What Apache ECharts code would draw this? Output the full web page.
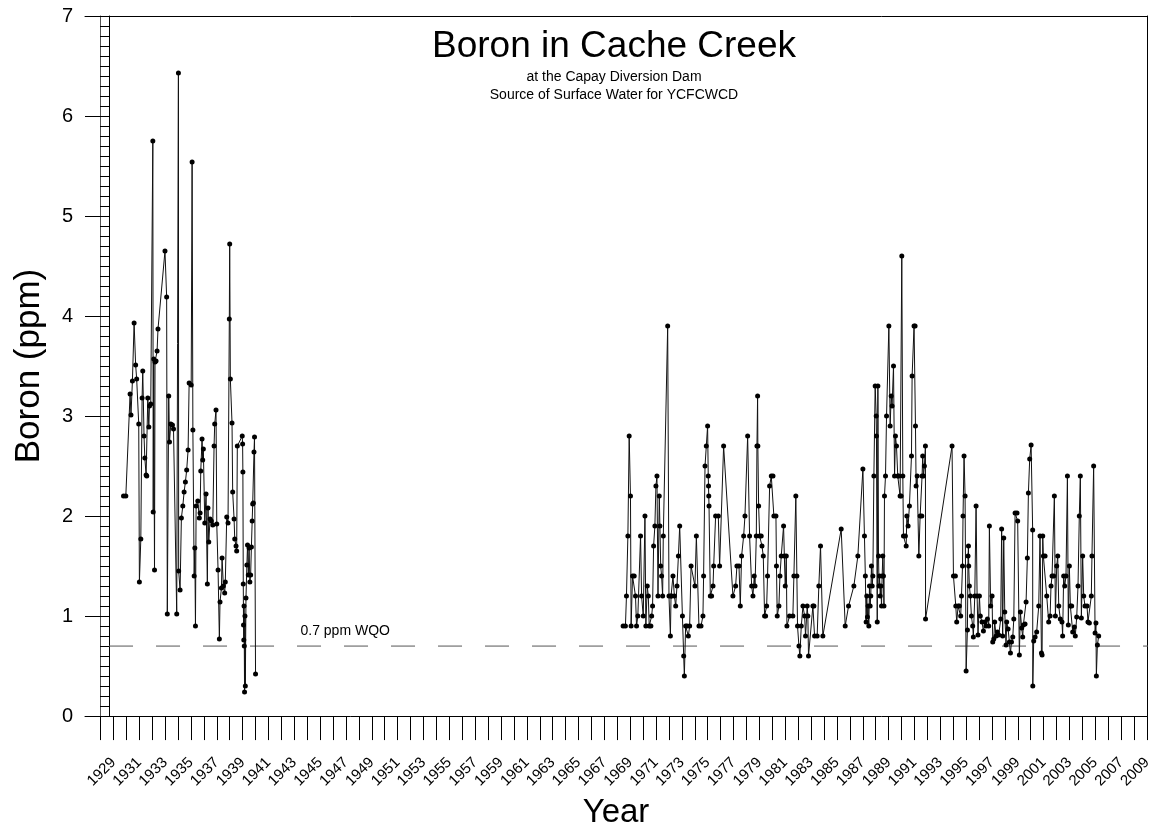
<!DOCTYPE html>
<html>
<head>
<meta charset="utf-8">
<title>Boron in Cache Creek</title>
<script src="https://cdn.jsdelivr.net/npm/echarts@6/dist/echarts.min.js"></script>
<style>
  html, body { margin: 0; padding: 0; background: #fff; }
  #chart { width: 1156px; height: 834px; }
</style>
</head>
<body>
<div id="chart"></div>
<script>
// samples as [decimal year, boron ppm]
const record1929to1940 = [
  [1929.78, 2.2], [1929.96, 2.2], [1930.29, 3.22], [1930.36, 3.01], [1930.47, 3.35],
  [1930.60, 3.93], [1930.72, 3.51], [1930.80, 3.37], [1930.96, 2.92], [1931.01, 1.34],
  [1931.12, 1.77], [1931.22, 3.18], [1931.27, 3.45], [1931.37, 2.80], [1931.43, 2.58],
  [1931.53, 2.41], [1931.58, 2.40], [1931.66, 3.18], [1931.74, 2.89], [1931.79, 3.10],
  [1931.89, 3.12], [1932.05, 5.75], [1932.08, 2.04], [1932.12, 3.57], [1932.18, 1.46],
  [1932.22, 3.54], [1932.30, 3.55], [1932.38, 3.65], [1932.45, 3.87], [1932.99, 4.65],
  [1933.12, 4.19], [1933.17, 1.02], [1933.28, 3.20], [1933.34, 2.74], [1933.44, 2.92],
  [1933.57, 2.91], [1933.65, 2.87], [1933.90, 1.02], [1934.03, 6.43], [1934.05, 1.45],
  [1934.16, 1.26], [1934.26, 1.98], [1934.37, 2.10], [1934.47, 2.24], [1934.57, 2.34],
  [1934.67, 2.46], [1934.78, 2.66], [1934.86, 3.33], [1935.02, 3.31], [1935.09, 5.54],
  [1935.15, 2.86], [1935.25, 1.40], [1935.30, 1.68], [1935.35, 0.90], [1935.40, 2.10],
  [1935.53, 2.15], [1935.65, 1.98], [1935.71, 2.03], [1935.76, 2.45], [1935.86, 2.77],
  [1935.91, 2.56], [1935.96, 2.67], [1936.07, 1.93], [1936.17, 2.22], [1936.27, 1.32],
  [1936.32, 2.08], [1936.38, 1.74], [1936.48, 1.97], [1936.58, 1.95], [1936.69, 1.91],
  [1936.79, 2.70], [1936.84, 2.92], [1936.94, 3.06], [1937.00, 1.92], [1937.10, 1.46],
  [1937.20, 0.77], [1937.25, 1.14], [1937.36, 1.28], [1937.41, 1.58], [1937.51, 1.30],
  [1937.61, 1.23], [1937.66, 1.34], [1937.77, 1.99], [1937.87, 1.93], [1937.97, 3.97],
  [1938.00, 4.72], [1938.05, 3.37], [1938.18, 2.93], [1938.23, 2.24], [1938.34, 1.97],
  [1938.39, 1.77], [1938.49, 1.70], [1938.54, 1.65], [1938.59, 2.70], [1938.97, 2.80],
  [1939.00, 2.72], [1939.02, 2.44], [1939.05, 1.32], [1939.07, 0.91], [1939.09, 0.76],
  [1939.11, 1.10], [1939.13, 0.70], [1939.15, 0.24], [1939.18, 1.00], [1939.21, 0.30],
  [1939.26, 1.18], [1939.33, 1.51], [1939.38, 1.71], [1939.44, 1.41], [1939.50, 1.68],
  [1939.56, 1.34], [1939.62, 1.41], [1939.68, 1.69], [1939.74, 1.95], [1939.78, 2.12],
  [1939.83, 2.13], [1939.88, 2.64], [1939.92, 2.79], [1940.00, 0.42]
];

const record1968to2005 = [
  [1968.45, 0.9], [1968.63, 0.9], [1968.71, 1.2], [1968.82, 1.8], [1968.92, 2.8],
  [1969.02, 2.2], [1969.07, 0.9], [1969.18, 1.4], [1969.31, 1.4], [1969.41, 1.2],
  [1969.49, 0.9], [1969.59, 1.0], [1969.80, 1.8], [1969.88, 1.2], [1970.01, 1.0],
  [1970.14, 2.0], [1970.21, 0.9], [1970.32, 1.3], [1970.40, 1.2], [1970.47, 0.9],
  [1970.60, 0.9], [1970.66, 1.0], [1970.73, 1.1], [1970.81, 1.7], [1970.91, 1.9],
  [1970.99, 2.3], [1971.07, 2.4], [1971.15, 1.2], [1971.25, 2.2], [1971.30, 1.9],
  [1971.36, 1.5], [1971.43, 1.4], [1971.51, 1.2], [1971.56, 1.8], [1971.90, 3.9],
  [1972.00, 1.2], [1972.11, 0.8], [1972.16, 1.2], [1972.20, 1.2], [1972.31, 1.4],
  [1972.42, 1.2], [1972.52, 1.1], [1972.62, 1.3], [1972.73, 1.6], [1972.83, 1.9],
  [1973.04, 1.0], [1973.14, 0.6], [1973.19, 0.4], [1973.29, 0.9], [1973.40, 0.9],
  [1973.50, 0.8], [1973.60, 0.9], [1973.71, 1.5], [1974.01, 1.3], [1974.12, 1.8],
  [1974.32, 0.9], [1974.48, 0.9], [1974.63, 1.0], [1974.68, 1.4], [1974.79, 2.5],
  [1974.89, 2.7], [1974.99, 2.9], [1975.04, 2.4], [1975.06, 2.3], [1975.08, 2.2],
  [1975.10, 2.1], [1975.20, 1.2], [1975.30, 1.2], [1975.41, 1.3], [1975.46, 1.5],
  [1975.61, 2.0], [1975.82, 2.0], [1975.92, 1.5], [1976.23, 2.7], [1976.95, 1.2],
  [1977.16, 1.3], [1977.26, 1.5], [1977.42, 1.5], [1977.52, 1.1], [1977.62, 1.6],
  [1977.78, 1.8], [1977.88, 2.0], [1978.09, 2.8], [1978.24, 1.8], [1978.40, 1.3],
  [1978.50, 1.2], [1978.60, 1.4], [1978.66, 1.3], [1978.76, 1.8], [1978.81, 2.7],
  [1978.86, 3.2], [1978.88, 2.7], [1978.94, 2.1], [1979.02, 1.8], [1979.14, 1.8],
  [1979.20, 1.7], [1979.30, 1.6], [1979.40, 1.0], [1979.48, 1.0], [1979.56, 1.1],
  [1979.63, 1.4], [1979.79, 2.3], [1979.92, 2.4], [1980.05, 2.4], [1980.12, 2.0],
  [1980.28, 2.0], [1980.32, 1.5], [1980.38, 1.0], [1980.51, 1.1], [1980.59, 1.4],
  [1980.69, 1.6], [1980.87, 1.9], [1980.93, 1.6], [1981.00, 1.3], [1981.08, 1.6],
  [1981.13, 0.9], [1981.33, 1.0], [1981.59, 1.0], [1981.67, 1.4], [1981.82, 2.2],
  [1981.90, 1.4], [1981.95, 0.9], [1982.06, 0.7], [1982.13, 0.6], [1982.24, 0.9],
  [1982.37, 1.1], [1982.50, 1.0], [1982.57, 0.8], [1982.70, 1.1], [1982.75, 1.0],
  [1982.80, 0.6], [1983.14, 1.1], [1983.22, 1.1], [1983.27, 0.8], [1983.47, 0.8],
  [1983.60, 1.3], [1983.73, 1.7], [1983.91, 0.8], [1985.33, 1.87], [1985.64, 0.9],
  [1985.90, 1.1], [1986.31, 1.3], [1986.62, 1.6], [1987.01, 2.47], [1987.13, 1.8],
  [1987.20, 1.4], [1987.26, 0.94], [1987.31, 1.2], [1987.36, 0.99], [1987.41, 1.1],
  [1987.47, 0.9], [1987.52, 1.3], [1987.57, 1.1], [1987.62, 1.2], [1987.67, 1.5],
  [1987.73, 1.3], [1987.78, 1.4], [1987.86, 2.4], [1987.96, 3.3], [1988.04, 3.0],
  [1988.06, 2.8], [1988.12, 0.94], [1988.17, 3.3], [1988.22, 1.6], [1988.26, 1.3],
  [1988.30, 1.4], [1988.35, 1.2], [1988.40, 1.3], [1988.45, 1.1], [1988.50, 1.4],
  [1988.55, 1.6], [1988.60, 1.4], [1988.64, 1.1], [1988.68, 2.2], [1988.76, 2.4],
  [1988.84, 3.0], [1989.02, 3.9], [1989.12, 2.9], [1989.20, 3.2], [1989.27, 3.1],
  [1989.38, 3.5], [1989.46, 2.4], [1989.53, 2.8], [1989.61, 2.7], [1989.71, 2.4],
  [1989.79, 2.4], [1989.89, 2.2], [1989.97, 2.2], [1990.02, 4.6], [1990.10, 2.4],
  [1990.15, 1.8], [1990.30, 1.8], [1990.36, 1.7], [1990.41, 2.0], [1990.51, 1.9],
  [1990.61, 2.1], [1990.77, 2.6], [1990.82, 3.4], [1990.97, 3.9], [1991.05, 3.9],
  [1991.08, 2.9], [1991.13, 2.3], [1991.21, 2.4], [1991.34, 1.6], [1991.44, 2.0],
  [1991.57, 2.0], [1991.59, 2.4], [1991.64, 2.6], [1991.70, 2.4], [1991.77, 2.5],
  [1991.85, 2.7], [1991.86, 0.97], [1993.91, 2.7], [1994.02, 1.4], [1994.17, 1.4],
  [1994.20, 1.1], [1994.27, 0.94], [1994.38, 1.1], [1994.48, 1.1], [1994.58, 1.0],
  [1994.64, 1.2], [1994.72, 1.5], [1994.76, 2.0], [1994.84, 2.6], [1994.92, 2.2],
  [1995.00, 0.45], [1995.10, 0.86], [1995.15, 1.6], [1995.18, 1.7], [1995.20, 1.5],
  [1995.25, 1.3], [1995.33, 1.2], [1995.41, 1.0], [1995.51, 0.9], [1995.56, 0.79],
  [1995.67, 1.2], [1995.77, 2.1], [1995.85, 1.2], [1995.92, 0.81], [1996.03, 1.2],
  [1996.10, 1.0], [1996.23, 0.94], [1996.34, 0.85], [1996.44, 0.94], [1996.54, 0.9],
  [1996.65, 0.97], [1996.75, 0.9], [1996.80, 1.9], [1996.90, 1.1], [1997.01, 1.2],
  [1997.06, 0.74], [1997.14, 0.77], [1997.21, 0.94], [1997.32, 0.8], [1997.42, 0.84],
  [1997.52, 0.81], [1997.68, 0.97], [1997.75, 1.87], [1997.83, 0.8], [1997.91, 1.78],
  [1997.99, 1.04], [1998.09, 0.71], [1998.14, 0.94], [1998.25, 0.87], [1998.35, 0.74],
  [1998.43, 0.63], [1998.51, 0.74], [1998.61, 0.79], [1998.69, 0.97], [1998.79, 2.03],
  [1998.94, 2.03], [1998.99, 1.95], [1999.12, 0.61], [1999.20, 1.04], [1999.30, 0.88],
  [1999.38, 0.79], [1999.43, 0.91], [1999.56, 0.92], [1999.64, 1.14], [1999.74, 1.58],
  [1999.82, 2.23], [1999.92, 2.57], [2000.03, 2.71], [2000.15, 1.86], [2000.16, 0.30],
  [2000.23, 0.75], [2000.34, 0.79], [2000.46, 0.84], [2000.62, 1.10], [2000.72, 1.80],
  [2000.83, 0.63], [2000.88, 0.61], [2000.93, 1.80], [2000.98, 1.60], [2001.11, 1.60],
  [2001.24, 1.20], [2001.39, 0.94], [2001.50, 1.00], [2001.57, 1.30], [2001.65, 1.40],
  [2001.78, 1.40], [2001.83, 2.20], [2001.91, 1.00], [2002.01, 1.50], [2002.09, 1.60],
  [2002.17, 1.10], [2002.29, 0.97], [2002.42, 0.94], [2002.47, 0.80], [2002.55, 1.40],
  [2002.63, 1.30], [2002.73, 1.40], [2002.84, 2.40], [2002.91, 0.91], [2002.99, 1.50],
  [2003.07, 1.10], [2003.17, 1.10], [2003.25, 0.84], [2003.38, 0.89], [2003.45, 0.80],
  [2003.56, 0.99], [2003.66, 1.30], [2003.76, 2.00], [2003.84, 2.40], [2003.92, 0.98],
  [2004.02, 1.60], [2004.10, 1.20], [2004.20, 1.10], [2004.36, 1.10], [2004.43, 0.94],
  [2004.54, 0.93], [2004.69, 1.20], [2004.74, 1.60], [2004.87, 2.50], [2004.98, 0.83],
  [2005.05, 0.93], [2005.08, 0.40], [2005.16, 0.71], [2005.26, 0.80]
];

// water quality objective reference line
const wqoLevel = 0.7;
const wqoLine = [[1928.66, wqoLevel], [2009.46, wqoLevel]];
const wqoLabelAt = [1946.94, wqoLevel];

const xMin = 1926.8;
const xMax = 2009;
const yearTicks = Array.from({ length: 82 }, (_, i) => 1928 + i);
const yearLabels = yearTicks.filter((y) => y % 2 === 1);

const FONT = '"Liberation Sans", Arial, sans-serif';

const chart = echarts.init(document.getElementById('chart'), null, { renderer: 'canvas' });

const titleStyle = (size) => ({ fontFamily: FONT, fontSize: size, fontWeight: 'normal', color: '#000' });

chart.setOption({
  animation: false,
  backgroundColor: '#fff',
  textStyle: { fontFamily: FONT, color: '#000' },
  title: [
    { text: 'Boron in Cache Creek', left: 609, top: 23, textAlign: 'center', textStyle: titleStyle(37) },
    { text: 'at the Capay Diversion Dam', left: 609, top: 65, textAlign: 'center', textStyle: titleStyle(14) },
    { text: 'Source of Surface Water for YCFCWCD', left: 609, top: 83, textAlign: 'center', textStyle: titleStyle(14) },
  ],
  grid: { left: 85, right: 9, top: 16, bottom: 116, containLabel: false },
  xAxis: [
    {
      type: 'value',
      min: xMin,
      max: xMax,
      name: 'Year',
      nameLocation: 'middle',
      nameGap: 71,
      nameTextStyle: { fontFamily: FONT, fontSize: 33, color: '#000' },
      axisLine: { show: true, onZero: false, lineStyle: { color: '#000', width: 1 } },
      axisTick: { show: true, length: 24, customValues: yearTicks, lineStyle: { color: '#000' } },
      axisLabel: {
        show: true, customValues: yearLabels, rotate: 45, margin: 44,
        fontSize: 15, color: '#000', fontFamily: FONT,
        formatter: (v) => String(Math.round(v)),
      },
      splitLine: { show: false },
    },
    {
      type: 'value', position: 'top', min: xMin, max: xMax,
      axisLine: { show: true, onZero: false, lineStyle: { color: '#000' } },
      axisTick: { show: false }, axisLabel: { show: false }, splitLine: { show: false },
    },
  ],
  yAxis: [
    {
      type: 'value',
      min: 0, max: 7, interval: 1,
      offset: -24,
      name: 'Boron (ppm)',
      nameLocation: 'middle',
      nameRotate: 90,
      nameGap: 62,
      nameTextStyle: { fontFamily: FONT, fontSize: 35, color: '#000' },
      axisLine: { show: true, onZero: false, lineStyle: { color: '#000' } },
      axisTick: { show: true, length: 24, lineStyle: { color: '#000' } },
      minorTick: { show: true, splitNumber: 10, length: 9, lineStyle: { color: '#000' } },
      axisLabel: { fontSize: 20, color: '#000', margin: 36, fontFamily: FONT },
      splitLine: { show: false },
      minorSplitLine: { show: false },
    },
    {
      type: 'value', min: 0, max: 7, position: 'left', offset: -15.6,
      axisLine: { show: true, onZero: false, lineStyle: { color: '#555' } },
      axisTick: { show: false }, axisLabel: { show: false }, splitLine: { show: false },
    },
    {
      type: 'value', min: 0, max: 7, position: 'right',
      axisLine: { show: true, onZero: false, lineStyle: { color: '#000' } },
      axisTick: { show: false }, axisLabel: { show: false }, splitLine: { show: false },
    },
  ],
  series: [
    {
      name: 'WQO',
      type: 'line',
      data: wqoLine,
      symbol: 'none',
      clip: false,
      silent: true,
      lineStyle: { color: '#555', width: 1, type: [24, 23] },
      markPoint: {
        symbol: 'circle',
        symbolSize: 0,
        data: [{ coord: wqoLabelAt }],
        label: {
          show: true, position: 'top', distance: 8,
          formatter: '0.7 ppm WQO', color: '#000', fontSize: 14, fontFamily: FONT,
        },
      },
    },
    {
      name: 'Boron 1929-1940',
      type: 'line',
      data: record1929to1940,
      symbol: 'circle',
      symbolSize: 5,
      showAllSymbol: true,
      itemStyle: { color: '#000' },
      lineStyle: { color: '#111', width: 1 },
    },
    {
      name: 'Boron 1968-2005',
      type: 'line',
      data: record1968to2005,
      symbol: 'circle',
      symbolSize: 5,
      showAllSymbol: true,
      itemStyle: { color: '#000' },
      lineStyle: { color: '#111', width: 1 },
    },
  ],
});
</script>
</body>
</html>
